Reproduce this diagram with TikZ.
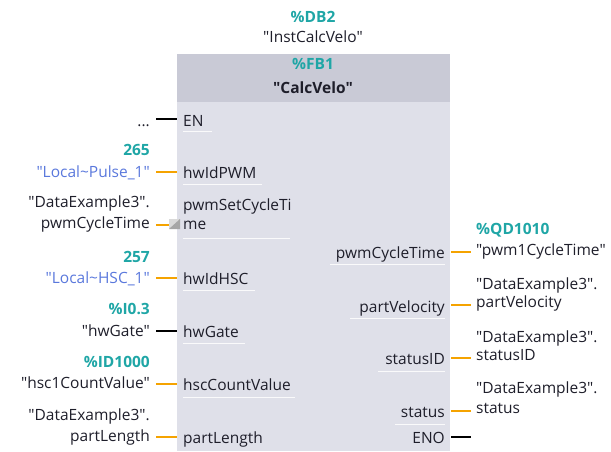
\documentclass[tikz,border=0pt]{standalone}
\usepackage{fontspec}
\setmainfont{Open Sans}[Ligatures=TeXOff]
\definecolor{teal1}{HTML}{1FA6A6}
\definecolor{blue1}{HTML}{5A78DC}
\definecolor{txt}{HTML}{1E1E2A}
\definecolor{wireo}{HTML}{F5A300}
\definecolor{hdr}{HTML}{C9CAD6}
\definecolor{body}{HTML}{DFE0E9}
\tikzset{
  lbl/.style={inner sep=0pt, text=txt, font=\fontsize{15.5}{18}\selectfont},
  addr/.style={lbl, text=teal1, font=\fontsize{15.5}{18}\selectfont\bfseries},
  loc/.style={lbl, text=blue1},
  lv/.style={lbl, anchor=base east},
  rv/.style={lbl, anchor=base west},
  pinl/.style={lbl, anchor=base west},
  pinr/.style={lbl, anchor=base east},
  ow/.style={draw=wireo, line width=1.6pt},
  bw/.style={draw=black, line width=1.6pt},
  ul/.style={draw=white, line width=1pt, opacity=0.85},
}
\begin{document}
\begin{tikzpicture}[x=1pt,y=-1pt]
\useasboundingbox (0,0) rectangle (611,451);
% block
\fill[body] (177,54) rectangle (450,451);
\fill[hdr] (177,54) rectangle (450,102);
% header texts
\node[addr, anchor=base] (db) at (313,22) {\%DB2};
\node[lbl, anchor=base] (inst) at (313,42) {"InstCalcVelo"};
\node[addr, anchor=base] (fb) at (313,69) {\%FB1};
\node[lbl, anchor=base, font=\fontsize{15.5}{18}\selectfont\bfseries] (calc) at (313,93) {"CalcVelo"};

% ---- left side ----
% EN
\node[lv] (dots) at (150,126) {...};
\node[pinl] (en) at (183,126) {EN};
\coordinate (enw) at (156,119);
\coordinate (enb) at (177,119);
\draw[bw] (enw) -- (enb);
\draw[ul] (183,131) -- (212,131);

% hwIdPWM
\node[addr, anchor=base east] (a265) at (150,155) {265};
\node[loc, anchor=base east] (lp) at (150,177) {"Local\textasciitilde Pulse\_1"};
\node[pinl] (hwpwm) at (183,178) {hwIdPWM};
\coordinate (w1a) at (156,172);
\coordinate (w1b) at (177,172);
\draw[ow] (w1a) -- (w1b);
\draw[ul] (183,184) -- (262,184);

% pwmSetCycleTime
\node[lv] (de1) at (150,207) {"DataExample3".};
\node[lv] (pct) at (150,228) {pwmCycleTime};
\node[pinl] (pset1) at (183,210) {pwmSetCycleTi};
\node[pinl] (pset2) at (183,229) {me};
\coordinate (w2a) at (156,225);
\coordinate (w2b) at (169,225);
\draw[ow] (w2a) -- (w2b);
\fill[gray!30] (169,219) rectangle (180,229);
\fill[gray!70] (180,219) -- (180,229) -- (169,229) -- cycle;
\draw[ul] (183,238) -- (290,238);

% hwIdHSC
\node[addr, anchor=base east] (a257) at (150,262) {257};
\node[loc, anchor=base east] (lh) at (150,283) {"Local\textasciitilde HSC\_1"};
\node[pinl] (hwhsc) at (183,284) {hwIdHSC};
\coordinate (w3a) at (156,278);
\coordinate (w3b) at (177,278);
\draw[ow] (w3a) -- (w3b);
\draw[ul] (183,290) -- (255,290);

% hwGate
\node[addr, anchor=base east] (i03) at (150,314) {\%I0.3};
\node[lv] (hg) at (150,336) {"hwGate"};
\node[pinl] (hwg) at (183,337) {hwGate};
\coordinate (w4a) at (156,331);
\coordinate (w4b) at (177,331);
\draw[bw] (w4a) -- (w4b);
\draw[ul] (183,343) -- (245,343);

% hscCountValue
\node[addr, anchor=base east] (id1000) at (150,367) {\%ID1000};
\node[lv] (hcv) at (150,388) {"hsc1CountValue"};
\node[pinl] (hscv) at (183,390) {hscCountValue};
\coordinate (w5a) at (156,384);
\coordinate (w5b) at (177,384);
\draw[ow] (w5a) -- (w5b);
\draw[ul] (183,397) -- (295,397);

% partLength
\node[lv] (de2) at (150,420) {"DataExample3".};
\node[lv] (pl) at (150,441) {partLength};
\node[pinl] (plen) at (183,443) {partLength};
\coordinate (w6a) at (156,437);
\coordinate (w6b) at (177,437);
\draw[ow] (w6a) -- (w6b);

% ---- right side ----
% pwmCycleTime
\node[pinr] (opct) at (445,258) {pwmCycleTime};
\node[addr, anchor=base west] (qd) at (476,234) {\%QD1010};
\node[rv] (p1ct) at (476,255) {"pwm1CycleTime"};
\coordinate (r1a) at (451,252);
\coordinate (r1b) at (471,252);
\draw[ow] (r1a) -- (r1b);
\draw[ul] (330,264) -- (445,264);

% partVelocity
\node[pinr] (opv) at (445,312) {partVelocity};
\node[rv] (de3) at (476,289) {"DataExample3".};
\node[rv] (pv) at (476,307) {partVelocity};
\coordinate (r2a) at (451,305);
\coordinate (r2b) at (471,305);
\draw[ow] (r2a) -- (r2b);
\draw[ul] (350,318) -- (445,318);

% statusID
\node[pinr] (osid) at (445,364) {statusID};
\node[rv] (de4) at (476,342) {"DataExample3".};
\node[rv] (sid) at (476,360) {statusID};
\coordinate (r3a) at (451,358);
\coordinate (r3b) at (471,358);
\draw[ow] (r3a) -- (r3b);
\draw[ul] (378,371) -- (445,371);

% status
\node[pinr] (ost) at (445,417) {status};
\node[rv] (de5) at (476,393) {"DataExample3".};
\node[rv] (st) at (476,413) {status};
\coordinate (r4a) at (451,411);
\coordinate (r4b) at (471,411);
\draw[ow] (r4a) -- (r4b);
\draw[ul] (395,424) -- (445,424);

% ENO
\node[pinr] (eno) at (445,443) {ENO};
\coordinate (r5a) at (451,437);
\coordinate (r5b) at (471,437);
\draw[bw] (r5a) -- (r5b);
\end{tikzpicture}
\end{document}
